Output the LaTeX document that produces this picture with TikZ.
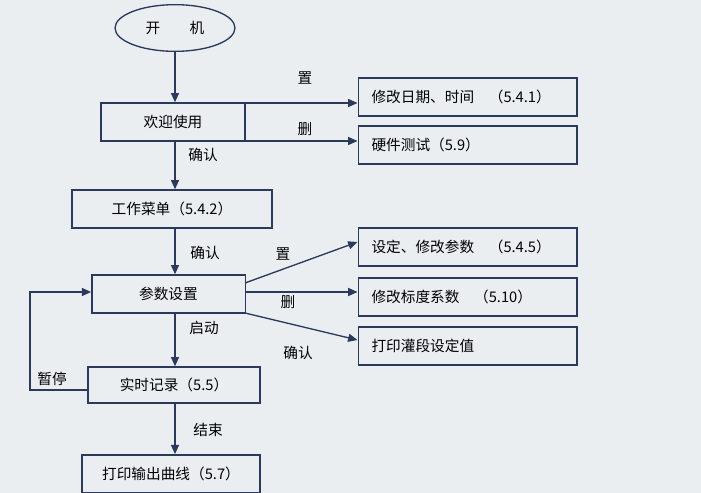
\documentclass[tikz,border=0pt]{standalone}
\usepackage{fontspec}
\setmainfont{Noto Sans CJK SC}
\usetikzlibrary{arrows.meta,shapes.geometric}
\definecolor{ln}{HTML}{2B3A5C}
\definecolor{bg}{HTML}{EBEEF1}
\begin{document}
\begin{tikzpicture}[x=0.75pt,y=-0.75pt,font=\fontsize{11}{13}\selectfont,
  bx/.style={draw=ln,line width=1pt,fill=bg,inner sep=0pt},
  rb/.style={bx,minimum width=164pt,minimum height=28.5pt,text width=144pt,inner xsep=10pt,align=left},
  ar/.style={draw=ln,line width=1pt,-{Triangle[length=7pt,width=6pt]}},
  lb/.style={inner sep=0pt}]
\fill[bg] (0,0) rectangle (701,493);
\useasboundingbox (0,0) rectangle (701,493);
\node[bx,ellipse,minimum width=90pt,minimum height=35pt] (on) at (175,28) {开\hspace{2em}机};
\node[bx,minimum width=108pt,minimum height=28.5pt] (wel) at (173,122) {欢迎使用};
\node[rb] (d1) at (467.5,97) {修改日期、时间\hspace{1em}（5.4.1）};
\node[rb] (d2) at (467.5,145) {硬件测试（5.9）};
\node[bx,minimum width=150pt,minimum height=28.5pt] (menu) at (172,209) {工作菜单（5.4.2）};
\node[bx,minimum width=115pt,minimum height=28.5pt] (par) at (168.5,294) {参数设置};
\node[rb] (p1) at (467.5,247) {设定、修改参数\hspace{1em}（5.4.5）};
\node[rb] (p2) at (467.5,297) {修改标度系数\hspace{1em}（5.10）};
\node[rb] (p3) at (467.5,346) {打印灌段设定值};
\node[bx,minimum width=129pt,minimum height=27pt] (rec) at (174,385) {实时记录（5.5）};
\node[bx,minimum width=133.5pt,minimum height=28pt] (out) at (171,473.5) {打印输出曲线（5.7）};
\coordinate (c1) at (245,103);
\coordinate (c2) at (245,141);
\coordinate (c3) at (245,283);
\coordinate (c4) at (245,292);
\coordinate (c5) at (245,313);
\coordinate (fa) at (30,390);
\coordinate (fb) at (30,292);
\draw[draw=ln,line width=1pt] (c1)--(c2);
\draw[ar] (on.south -| 175,0) -- (wel.north -| 175,0);
\draw[ar] (c1) -- (d1.west |- c1);
\draw[ar] (c2) -- (d2.west |- c2);
\draw[ar] (wel.south -| 175,0) -- (menu.north -| 175,0);
\draw[ar] (menu.south -| 175,0) -- (par.north -| 175,0);
\draw[ar] (c3) -- (p1.west |- 0,242);
\draw[ar] (c4) -- (p2.west |- c4);
\draw[ar] (c5) -- (p3.west |- 0,340);
\draw[ar] (par.south -| 175,0) -- (rec.north -| 175,0);
\draw[ar] (rec.south -| 175,0) -- (out.north -| 175,0);
\draw[ar] (rec.west |- fa) -- (fa) -- (fb) -- (par.west |- fb);
\node[lb] (t1) at (305,78) {置};
\node[lb] (t2) at (305,129) {删};
\node[lb] (t3) at (203,155) {确认};
\node[lb] (t4) at (205,253) {确认};
\node[lb] (t5) at (283,254) {置};
\node[lb] (t6) at (288,302) {删};
\node[lb] (t7) at (298,353) {确认};
\node[lb] (t8) at (204,328) {启动};
\node[lb] (t9) at (52,379) {暂停};
\node[lb] (t10) at (208,430) {结束};
\end{tikzpicture}
\end{document}
